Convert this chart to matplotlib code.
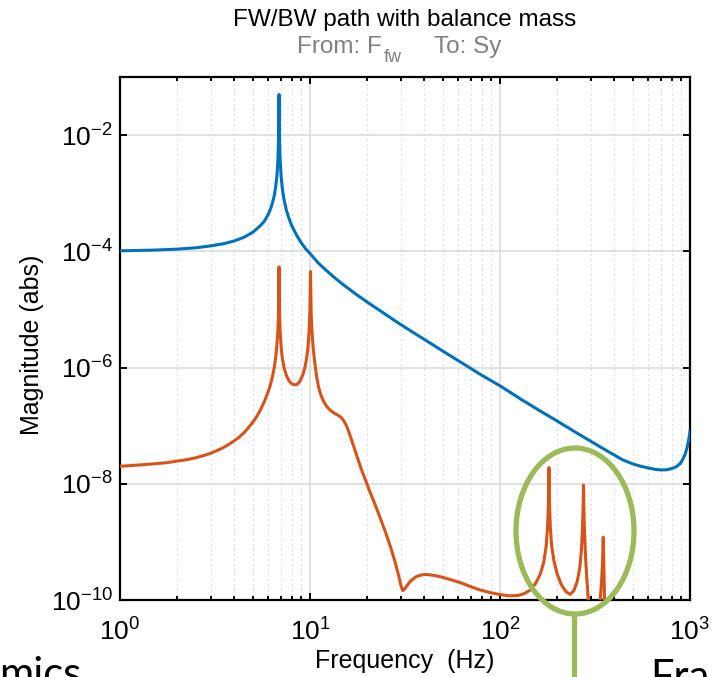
import matplotlib
matplotlib.use("Agg")
import matplotlib.pyplot as plt
from matplotlib.patches import Ellipse
from matplotlib.ticker import FixedLocator, NullLocator, LogFormatterSciNotation, NullFormatter

# ---------------- data ----------------
blue_f = [1.0, 1.5, 2.0, 2.5, 3.0, 3.5, 4.0, 4.5, 5.0, 5.5, 5.75, 6.0, 6.15, 6.3, 6.4, 6.5,
          6.6, 6.7, 6.78, 6.83, 6.87, 6.91, 6.96, 7.05, 7.15, 7.3, 7.5, 7.75, 8.0, 8.5, 9.0,
          9.5, 10.0, 11.0, 12.0, 13.5, 15.0, 17.5, 20.0, 25.0, 30.0, 37.0, 45.0, 55.0,
          65.0, 80.0, 100.0, 130.0, 160.0, 200.0, 250.0, 300.0, 360.0, 440.0, 500.0,
          550.0, 600.0, 650.0, 700.0, 750.0, 800.0, 850.0, 890.0, 920.0, 945.0, 965.0,
          980.0, 990.0, 1000.0]
blue_m = [1.02e-4, 1.05e-4, 1.09e-4, 1.15e-4, 1.24e-4, 1.35e-4, 1.51e-4, 1.75e-4, 2.13e-4,
          2.8e-4, 3.3e-4, 4.2e-4, 5.0e-4, 6.3e-4, 7.6e-4, 9.5e-4, 1.3e-3, 2.0e-3, 3.8e-3,
          8.6e-3, 5.0e-2, 8.6e-3, 3.8e-3, 1.9e-3, 1.2e-3, 7.8e-4, 5.2e-4, 3.7e-4, 2.8e-4,
          1.9e-4, 1.4e-4, 1.1e-4, 9.2e-5, 6.4e-5, 4.9e-5, 3.5e-5, 2.65e-5, 1.82e-5,
          1.34e-5, 8.2e-6, 5.5e-6, 3.57e-6, 2.39e-6, 1.58e-6, 1.13e-6, 7.4e-7, 4.85e-7,
          2.8e-7, 1.85e-7, 1.2e-7, 7.7e-8, 5.4e-8, 3.8e-8, 2.6e-8, 2.2e-8, 2.0e-8, 1.88e-8,
          1.78e-8, 1.73e-8, 1.74e-8, 1.82e-8, 1.98e-8, 2.25e-8, 2.7e-8, 3.3e-8, 4.2e-8,
          5.3e-8, 6.4e-8, 8.0e-8]

orange_f = [1.0, 1.25, 1.5, 1.75, 2.0, 2.25, 2.5, 2.75, 3.0, 3.25, 3.5, 3.75, 4.0, 4.25,
            4.5, 4.75, 5.0, 5.25, 5.5, 5.75, 6.0, 6.15, 6.3, 6.4, 6.5, 6.6, 6.7, 6.78, 6.83,
            6.87, 6.91, 6.96, 7.05, 7.15, 7.3, 7.5, 7.75, 8.0, 8.2, 8.4, 8.6, 8.8, 9.0, 9.2,
            9.4, 9.6, 9.75, 9.88, 9.98, 10.06, 10.14, 10.25, 10.4, 10.6, 10.85, 11.1, 11.4,
            11.8, 12.3, 12.9, 13.5, 14.1, 14.6, 15.1, 15.6, 16.2, 16.9, 17.7, 18.6, 19.6,
            20.7, 22.0, 23.5, 25.0, 26.5, 28.0, 29.3, 30.2, 30.8, 31.5, 32.5, 34.0, 36.0,
            38.5, 41.0, 45.0, 50.0, 56.0, 63.0, 70.0, 78.0, 88.0, 100.0, 112.0, 125.0,
            135.0, 145.0, 155.0, 163.0, 170.0, 175.0, 178.0, 180.0, 181.0, 182.0, 184.0,
            187.0, 192.0, 200.0, 210.0, 222.0, 234.0, 245.0, 255.0, 263.0, 268.0, 271.5,
            273.5, 275.0, 276.5, 278.5, 282.0, 286.0, 291.0, 297.0, 305.0, 320.0, 335.0,
            342.0, 346.0, 349.5, 352.0, 355.0, 360.0, 380.0, 450.0, 600.0, 1000.0]
orange_m = [2.0e-8, 2.1e-8, 2.2e-8, 2.3e-8, 2.45e-8, 2.6e-8, 2.8e-8, 3.05e-8, 3.35e-8,
            3.75e-8, 4.2e-8, 4.8e-8, 5.5e-8, 6.4e-8, 7.6e-8, 9.3e-8, 1.15e-7, 1.45e-7,
            1.9e-7, 2.6e-7, 3.7e-7, 4.7e-7, 6.3e-7, 8.0e-7, 1.05e-6, 1.5e-6, 2.5e-6, 4.5e-6,
            9e-6, 5.4e-5, 9e-6, 4.3e-6, 2.2e-6, 1.45e-6, 1.0e-6, 7.4e-7, 5.9e-7, 5.3e-7,
            5.1e-7, 5.05e-7, 5.2e-7, 5.7e-7, 6.5e-7, 7.8e-7, 1.0e-6, 1.45e-6, 2.2e-6, 4e-6,
            8.5e-6, 4.5e-5, 8.5e-6, 4e-6, 2.1e-6, 1.2e-6, 6.8e-7, 4.6e-7, 3.4e-7, 2.6e-7,
            2.1e-7, 1.8e-7, 1.62e-7, 1.5e-7, 1.38e-7, 1.2e-7, 9.8e-8, 7e-8, 4.6e-8, 2.9e-8,
            1.8e-8, 1.15e-8, 7.2e-9, 4.4e-9, 2.5e-9, 1.45e-9, 8.3e-10, 4.6e-10, 2.6e-10,
            1.7e-10, 1.45e-10, 1.55e-10, 1.8e-10, 2.15e-10, 2.5e-10, 2.7e-10, 2.75e-10,
            2.65e-10, 2.45e-10, 2.2e-10, 1.95e-10, 1.7e-10, 1.5e-10, 1.35e-10, 1.24e-10,
            1.18e-10, 1.2e-10, 1.3e-10, 1.5e-10, 2.0e-10, 2.8e-10, 4.5e-10, 8.5e-10, 1.8e-9,
            5e-9, 1.9e-8, 5e-9, 1.8e-9, 8.5e-10, 4.8e-10, 2.8e-10, 1.85e-10, 1.4e-10,
            1.25e-10, 1.45e-10, 2.1e-10, 3.6e-10, 7e-10, 1.6e-9, 3.5e-9, 9.5e-9, 3.5e-9,
            1.5e-9, 5.5e-10, 2.5e-10, 1.1e-10, 3.5e-11, 1e-11, 2e-11, 8e-11, 2e-10, 4e-10,
            1.2e-9, 4e-10, 1e-10, 4e-11, 1.5e-11, 1e-11, 8e-12, 5e-12]

title_text = "FW/BW path with balance mass"
subtitle_parts = ["From: F", "fw", "To: Sy"]
xlabel_text = "Frequency  (Hz)"
ylabel_text = "Magnitude (abs)"
x_ticks = [1, 10, 100, 1000]
y_ticks = [1e-10, 1e-8, 1e-6, 1e-4, 1e-2]
slide_left = "mics"
slide_right = "Fra"

# ---------------- style ----------------
plt.rcParams['font.family'] = ['Liberation Sans', 'DejaVu Sans']
plt.rcParams['mathtext.fontset'] = 'custom'
plt.rcParams['mathtext.rm'] = 'Liberation Sans'
plt.rcParams['mathtext.it'] = 'Liberation Sans'
plt.rcParams['mathtext.default'] = 'regular'
plt.rcParams['axes.unicode_minus'] = False

W, H = 712, 677
fig = plt.figure(figsize=(W / 100, H / 100), dpi=100)
ax = fig.add_axes([120 / W, 1 - 600 / H, 570 / W, 523 / H])

ax.set_xscale('log')
ax.set_yscale('log')
ax.set_xlim(1, 1000)
ax.set_ylim(1e-10, 1e-1)

ax.plot(blue_f, blue_m, color='#0072BD', lw=2.2, zorder=3)
ax.plot(orange_f, orange_m, color='#D95319', lw=2.2, zorder=3)

ax.xaxis.set_major_locator(FixedLocator(x_ticks))
minor_x = [m * d for d in (1, 10, 100) for m in range(2, 10)]
ax.xaxis.set_minor_locator(FixedLocator(minor_x))
ax.xaxis.set_minor_formatter(NullFormatter())
ax.xaxis.set_major_formatter(LogFormatterSciNotation())
ax.yaxis.set_major_locator(FixedLocator(y_ticks))
ax.yaxis.set_minor_locator(NullLocator())
ax.yaxis.set_major_formatter(LogFormatterSciNotation())

ax.grid(True, which='major', color='#dcdcdc', lw=1.2, zorder=0)
ax.grid(True, which='minor', axis='x', color='#c4c4c4', lw=0.8, ls=(0, (1, 3.5)), zorder=0)
ax.set_axisbelow(True)

for s in ax.spines.values():
    s.set_linewidth(1.6)
    s.set_color('black')
ax.tick_params(which='both', direction='in', top=True, right=True, width=1.4, colors='black')
ax.tick_params(which='major', length=5, labelsize=19)
ax.tick_params(axis='x', which='major', pad=13)
ax.tick_params(axis='y', which='major', pad=5)
ax.tick_params(which='minor', length=3)

ax.set_xlabel(xlabel_text, fontsize=18)
ax.xaxis.set_label_coords(0.5, (600 - 649) / 523)
ax.set_ylabel(ylabel_text, fontsize=18)
ax.yaxis.set_label_coords((44 - 120) / 570, 0.5 - 6 / 523)

fig.text(405 / W, 1 - 20 / H, title_text, ha='center', va='center', fontsize=17.5, color='black')
gray = '#808080'
fig.text(382 / W, 1 - 47 / H, subtitle_parts[0], ha='right', va='center', fontsize=17.5, color=gray)
fig.text(384 / W, 1 - 58 / H, subtitle_parts[1], ha='left', va='center', fontsize=13, color=gray)
fig.text(434 / W, 1 - 47 / H, subtitle_parts[2], ha='left', va='center', fontsize=17.5, color=gray)

# ---------------- overlay annotation ----------------
ov = fig.add_axes([0, 0, 1, 1], zorder=10)
ov.set_xlim(0, W)
ov.set_ylim(H, 0)
ov.axis('off')
ov.patch.set_alpha(0)
green = '#9BBB59'
ov.add_patch(Ellipse((575, 531), 118, 166, fill=False, edgecolor=green, lw=3.8))
ov.plot([574, 574], [614, 700], color=green, lw=3.8, solid_capstyle='butt')
ov.text(-1, 687, slide_left, fontsize=30, family=['Lato', 'DejaVu Sans'], color='black',
        ha='left', va='baseline')
ov.text(650, 690, slide_right, fontsize=30, family=['Lato', 'DejaVu Sans'], color='black',
        ha='left', va='baseline')

fig.savefig('out.png', dpi=100)
